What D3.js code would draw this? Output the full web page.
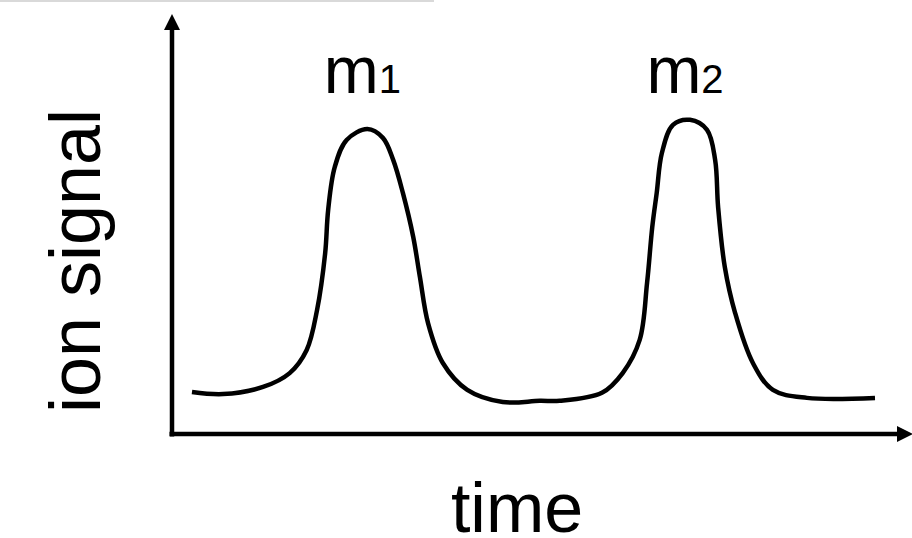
<!DOCTYPE html>
<html>
<head>
<meta charset="utf-8">
<script src="https://cdn.jsdelivr.net/npm/d3@7"></script>
<style>
  body { margin: 0; background: #fff; }
  svg { display: block; }
  text { font-family: "Liberation Sans", Arial, Helvetica, sans-serif; fill: #000; }
</style>
</head>
<body>
<div id="chart"></div>
<script>
// sketch of two chromatographic peaks
var timeValues = [2.7, 6.9, 12.3, 15.9, 18.2, 19.6, 20.7, 21.1, 22.0, 23.6, 26.4, 28.5, 29.9, 31.2, 32.6, 33.5, 34.6, 36.6, 39.9, 44.7, 49.7,
                  52.4, 58.1, 60.9, 63.2, 64.2, 64.9, 65.5, 66.2, 67.7, 70.0, 72.3, 73.4, 73.8, 74.7, 76.1, 78.5, 81.2, 85.8, 95.0]
var signalValues = [10.0, 9.5, 11.2, 14.5, 20.0, 29.5, 43.1, 53.3, 63.6, 70.0, 72.6, 70.5, 65.2, 57.4, 46.9, 37.4, 26.4, 16.9, 10.5, 7.6, 7.9,
                    7.9, 9.8, 14.5, 22.4, 36.0, 49.3, 57.4, 66.9, 73.6, 74.8, 72.4, 65.2, 54.0, 39.8, 28.8, 16.9, 10.5, 8.6, 8.6]
var peakNames = ["m", "m"]
var peakIndex = ["1", "2"]
var peakTimes = [26.4, 70.0]
var axisLabels = ["time", "ion signal"]

var width = 912, height = 538
var svg = d3.select("#chart").append("svg")
    .attr("width", width)
    .attr("height", height)

// thin grey rule along the top edge
svg.append("rect")
    .attr("x", 0).attr("y", 0)
    .attr("width", 434).attr("height", 2)
    .style("fill", "#d9d9d9")

var x = d3.scaleLinear().domain([0, 100]).range([172, 912])
var y = d3.scaleLinear().domain([0, 100]).range([434, 14])

// arrow head
svg.append("defs").append("marker")
    .attr("id", "arrow")
    .attr("viewBox", "0 0 16 16")
    .attr("refX", 0)
    .attr("refY", 8)
    .attr("markerWidth", 16)
    .attr("markerHeight", 16)
    .attr("markerUnits", "userSpaceOnUse")
    .attr("orient", "auto")
    .append("path")
    .attr("d", "M0,0L16,8L0,16Z")
    .style("fill", "#000")

// axes
svg.append("line")
    .attr("x1", x(0)).attr("y1", y(0) + 2.5)
    .attr("x2", x(0)).attr("y2", y(100) + 16)
    .attr("stroke", "#000").attr("stroke-width", 4.5)
    .attr("marker-end", "url(#arrow)")

svg.append("line")
    .attr("x1", x(0) - 2.5).attr("y1", y(0))
    .attr("x2", x(100) - 15).attr("y2", y(0))
    .attr("stroke", "#000").attr("stroke-width", 4.5)
    .attr("marker-end", "url(#arrow)")

// signal trace
var points = timeValues.map(function(t, i) { return [t, signalValues[i]] })
var line = d3.line()
    .x(function(d) { return x(d[0]) })
    .y(function(d) { return y(d[1]) })
    .curve(d3.curveCatmullRom.alpha(0.5))

svg.append("path")
    .datum(points)
    .attr("d", line)
    .style("fill", "none")
    .style("stroke", "#000")
    .style("stroke-width", 4.5)
    .style("stroke-linejoin", "round")

// peak labels
peakTimes.forEach(function(t, i) {
    var lbl = svg.append("text")
        .attr("x", x(t) - 5)
        .attr("y", 93)
        .attr("text-anchor", "middle")
        .style("font-size", "66px")
        .text(peakNames[i])
    lbl.append("tspan")
        .style("font-size", "40px")
        .text(peakIndex[i])
})

// axis titles
svg.append("text")
    .attr("x", 517)
    .attr("y", 532)
    .attr("text-anchor", "middle")
    .style("font-size", "70px")
    .text(axisLabels[0])

svg.append("text")
    .attr("transform", "translate(100,261) rotate(-90)")
    .attr("text-anchor", "middle")
    .style("font-size", "72px")
    .text(axisLabels[1])
</script>
</body>
</html>
